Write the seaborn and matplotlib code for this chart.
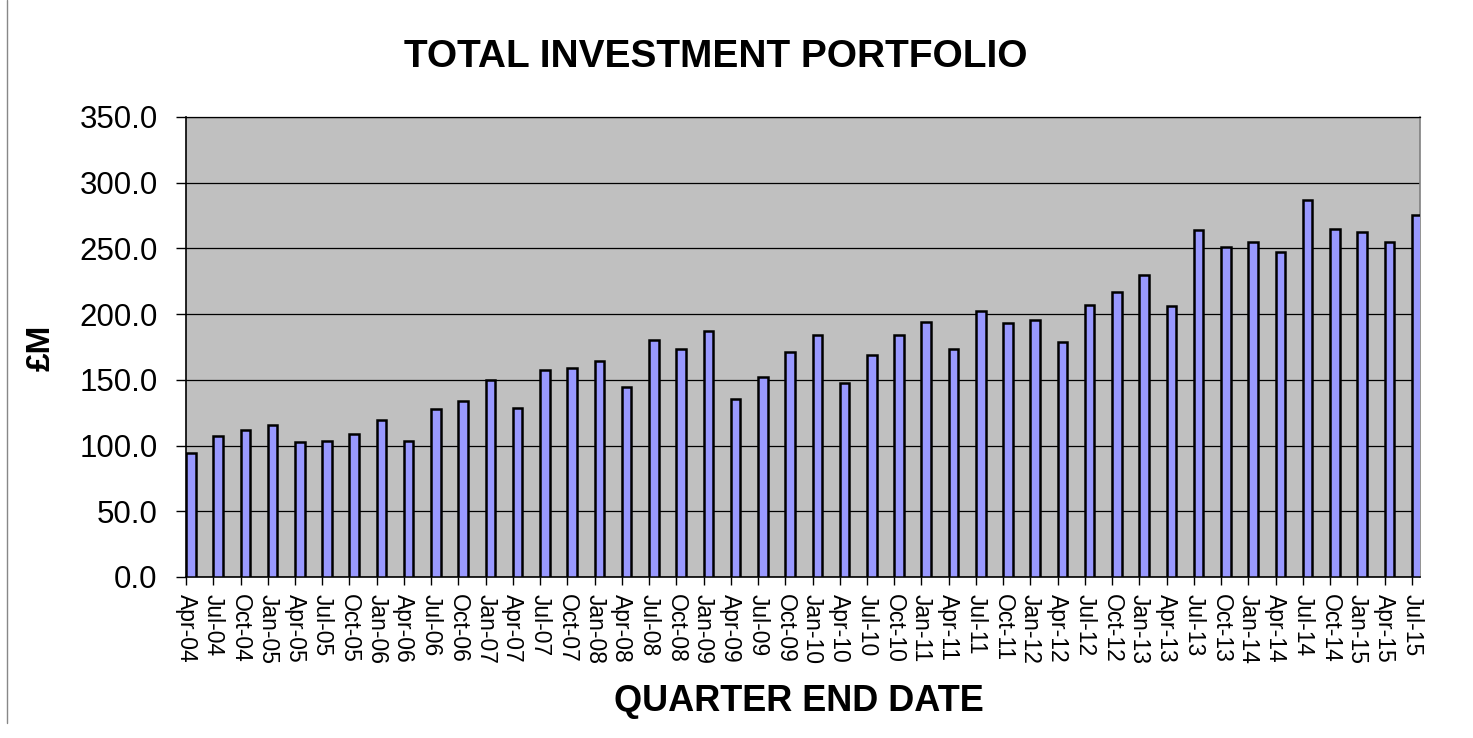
import matplotlib
matplotlib.use("Agg")
import matplotlib.pyplot as plt
import seaborn as sns
import numpy as np
import pandas as pd
from matplotlib.lines import Line2D

### Data: quarter end dates and portfolio value (GBP millions)
quarters = ['Apr-04', 'Jul-04', 'Oct-04', 'Jan-05', 'Apr-05', 'Jul-05', 'Oct-05', 'Jan-06',
            'Apr-06', 'Jul-06', 'Oct-06', 'Jan-07', 'Apr-07', 'Jul-07', 'Oct-07', 'Jan-08',
            'Apr-08', 'Jul-08', 'Oct-08', 'Jan-09', 'Apr-09', 'Jul-09', 'Oct-09', 'Jan-10',
            'Apr-10', 'Jul-10', 'Oct-10', 'Jan-11', 'Apr-11', 'Jul-11', 'Oct-11', 'Jan-12',
            'Apr-12', 'Jul-12', 'Oct-12', 'Jan-13', 'Apr-13', 'Jul-13', 'Oct-13', 'Jan-14',
            'Apr-14', 'Jul-14', 'Oct-14', 'Jan-15', 'Apr-15', 'Jul-15']
portfolio = [94.6, 107.5, 111.9, 115.4, 102.7, 103.3, 109.1, 119.7,
             103.5, 127.9, 133.9, 149.5, 128.8, 157.8, 159.0, 164.6,
             144.6, 180.1, 173.3, 187.4, 135.2, 152.0, 171.3, 184.4,
             147.6, 169.2, 184.2, 194.3, 173.5, 202.4, 193.3, 195.3,
             178.8, 207.3, 216.9, 229.6, 206.2, 264.3, 251.1, 255.2,
             247.6, 287.1, 264.8, 262.8, 255.2, 275.3]
y_ticks = [0, 50, 100, 150, 200, 250, 300, 350]

df = pd.DataFrame({'quarter': quarters, 'value': portfolio})

### Style
sns.set_style("white")
plt.rcParams['font.family'] = ['Liberation Sans', 'DejaVu Sans']
plt.rcParams['text.color'] = 'black'
plt.rcParams['axes.labelcolor'] = 'black'
plt.rcParams['xtick.color'] = 'black'
plt.rcParams['ytick.color'] = 'black'

fig = plt.figure(figsize=(14.73, 7.38), dpi=100)
ax = fig.add_axes([0.1263, 0.2182, 0.8377, 0.6233])

bar_w = 0.35
sns.barplot(data=df, x='quarter', y='value', color='#9999FF', saturation=1,
            width=bar_w, edgecolor='black', linewidth=1.8, ax=ax, zorder=3)

# plot area look (Excel style)
ax.set_facecolor('#C0C0C0')
ax.set_ylim(0, 350)
ax.set_yticks(y_ticks)
ax.set_yticklabels([f'{v:.1f}' for v in y_ticks], fontsize=22.5)
ax.yaxis.grid(True, color='black', linewidth=0.9, zorder=1)
ax.set_axisbelow(True)

# ticks sit at the left edge of each bar
n = len(quarters)
ax.set_xticks(np.arange(n) - bar_w / 2)
ax.set_xticklabels(quarters, rotation=270, fontsize=16.5)
ax.set_xlim(-bar_w / 2, n - 1 - bar_w / 2 + 0.30)

ax.tick_params(axis='y', direction='out', length=7, width=1, pad=13.5, left=True)
ax.tick_params(axis='x', direction='out', length=6, width=1, pad=6.5, bottom=True)

for side in ['left', 'bottom']:
    ax.spines[side].set_color('black')
    ax.spines[side].set_linewidth(1.2)
ax.spines['top'].set_color('black')
ax.spines['top'].set_linewidth(0.9)
ax.spines['right'].set_color('#808080')
ax.spines['right'].set_linewidth(1.2)

ax.set_xlabel('QUARTER END DATE', fontsize=26, fontweight='bold')
ax.xaxis.set_label_coords(0.4964, -0.2326)
ax.set_ylabel('£M', fontsize=24, fontweight='bold')
ax.yaxis.set_label_coords(-0.1045, 0.4978)

fig.text(0.4861, 0.9092, 'TOTAL INVESTMENT PORTFOLIO', fontsize=28, fontweight='bold',
         ha='center', va='baseline')

# thin page border line on the left
fig.add_artist(Line2D([0.005, 0.005], [0.02, 1.0], color='#888888', linewidth=1.0,
                      transform=fig.transFigure))

fig.savefig('out.png', dpi=100)
